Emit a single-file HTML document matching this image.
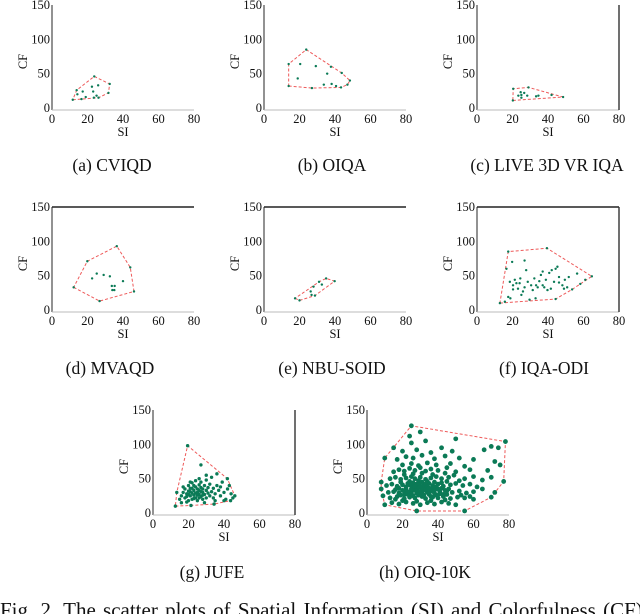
<!DOCTYPE html>
<html><head><meta charset="utf-8"><style>
html,body{margin:0;padding:0;background:#fff;}
svg{display:block;font-family:"Liberation Serif",serif;}
</style></head><body>
<svg id="fig" width="640" height="614" viewBox="0 0 640 614"></svg>
<script>
// ---- data ----
const xTicks = [0, 20, 40, 60, 80];
const yTicks = [0, 50, 100, 150];
const panelNames = ["(a) CVIQD","(b) OIQA","(c) LIVE 3D VR IQA","(d) MVAQD","(e) NBU-SOID","(f) IQA-ODI","(g) JUFE","(h) OIQ-10K"];
const siA = [11.7,14.3,13.9,17.3,19,16.6,22.5,23.2,26,25.1,26.2,23.8,32.5,31.8,23.6];
const cfA = [12,20,26,24,16,13,31,24,33,18,15,46,35,22,15];
const siB = [13.9,13.9,20.4,19,23.8,27,29.2,35.6,33.7,37.7,38.1,40.6,43.4,43.8,47,48.4];
const cfB = [64,32,64,43,85,29,61,50,34,60,35,32,30,51,34,40];
const siC = [20.2,20.4,29,24.6,25,26.6,23.3,28.3,33.3,34.6,42,48.5,25];
const cfC = [11,28,30,23,19,22,18,18,17,18,19,16,15];
const siD = [12.2,19.9,26.8,36.5,44.1,46.2,22.6,25.2,29.1,32.6,33.7,35.3,34,40,35.1];
const cfD = [33,71,13,93,62,27,46,53,51,49,35,35,29,42,29];
const siE = [17.5,20,28.7,26.3,27.9,31,35,39.8,26.8,32.6];
const cfE = [17,14,21,27,34,41,46,42,22,37];
const siF = [12.9,17.6,39.4,64.7,58.2,44.3,15.7,19.8,26.8,16.6,18.5,20.3,21.3,23.1,24,24.4,25.9,25,27.7,28.6,30.5,32.3,33.3,35.1,36,37,37.9,38.8,39.7,40.7,42.1,43.4,44.3,45.3,46.2,48.1,49.5,50.8,51.7,53.6,56.4,61,18.8,17.6,33,29.6,20.3,22.2,26.8,31.4,34.2,37,41.6,46.2,49];
const cfF = [10,85,90,49,38,16,12,70,72,60,41,36,44,31,39,46,27,22,58,41,36,46,36,42,51,56,33,44,29,54,58,41,60,63,48,36,44,33,48,30,53,44,17,19,17,15,30,39,33,29,33,36,31,40,31];
const siG = [12.6,13.4,19.5,41.9,46.1,43.7,34.4,21.4,15,16,17,18,18,19,20,20,20,21,21,22,22,22,23,23,24,24,24,25,25,25,26,26,26,27,27,27,28,28,28,29,29,30,30,30,31,31,32,32,33,34,34,35,36,36,37,38,39,40,41,42,44,45,27,30,33,17,19,16,23,21,26,38,40,43,35,29,19,21,23,24,25,27,22,20,26,28];
const cfG = [10,30,98,50,25,18,13,11,20,25,30,22,35,28,18,32,40,25,36,20,29,44,33,26,38,22,47,30,35,18,27,41,33,24,37,45,30,20,35,27,40,33,22,48,29,37,25,42,31,36,22,28,40,57,33,25,45,30,20,35,28,22,70,55,52,38,16,15,40,45,50,38,18,40,18,15,24,31,21,29,26,31,36,27,22,26];
const siH = [14,18,22,26,30,34,38,42,46,50,20,28,36,44,16,13,17,21,24,27,31,33,37,40,43,47,51,55,19,23,29,35,39,45,53,58,12,15,18,21,24,26,28,30,32,34,36,38,41,44,48,52,56,60,25,31,37,42,46,22,27,33,39,11,14,17,20,23,25,28,30,32,35,37,40,43,47,50,54,58,62,19,24,29,34,38,45,52,13,16,19,22,25,27,30,33,36,39,42,46,49,55,60,65,70,21,26,31,37,44,15,18,21,24,27,30,33,36,40,45,50,58,68,20,25,29,34,39,47,55,75,17,22,26,31,38,44,52,60,72,20,28,36,42,48,66,74,25,33,24,30,25,50,15,78,70,8,9,8,10,60,65,72,77,70,55,28,10,21,23,25,26,28,29,31,32,33,35,36,37,38,22,24,26,27,29,31,33,34,35,20,18,16,40,41,43,45,42];
const cfH = [15,13,16,14,12,15,13,16,14,12,18,17,18,19,20,22,24,21,23,22,24,21,23,22,24,21,23,22,26,27,26,27,26,27,26,24,30,31,29,32,30,33,29,31,33,30,32,29,31,33,30,32,29,31,35,36,35,36,35,35,37,38,38,40,42,39,41,43,40,42,39,41,43,40,42,39,41,43,40,42,38,45,46,47,46,45,46,47,50,52,49,51,53,50,52,49,51,53,50,52,55,50,53,48,52,56,57,58,56,58,60,63,61,65,62,66,61,64,62,66,60,63,62,70,72,69,73,70,72,68,70,78,82,80,84,79,83,80,78,75,90,92,88,95,90,92,95,102,105,112,118,127,108,95,104,97,35,25,45,12,20,35,30,46,23,3,3,80,27,31,28,25,33,37,28,26,34,29,24,37,33,38,41,44,39,43,45,42,38,36,33,36,34,35,28,27,32,44];

const panels = [
 {si:siA, cf:cfA, x0:52,  y0:108, top:false, right:false, cap:112, capY:171, r:1.2},
 {si:siB, cf:cfB, x0:264, y0:108, top:false, right:false, cap:332, capY:171, r:1.2},
 {si:siC, cf:cfC, x0:477, y0:108, top:false, right:true,  cap:547, capY:171, r:1.2},
 {si:siD, cf:cfD, x0:52,  y0:310, top:true,  right:false, cap:110, capY:374, r:1.2},
 {si:siE, cf:cfE, x0:264, y0:310, top:true,  right:false, cap:332, capY:374, r:1.2},
 {si:siF, cf:cfF, x0:477, y0:310, top:true,  right:true,  cap:544, capY:374, r:1.2},
 {si:siG, cf:cfG, x0:153, y0:513, top:false, right:true,  cap:212, capY:578, r:1.7},
 {si:siH, cf:cfH, x0:367, y0:513, top:false, right:false, cap:425, capY:578, r:2.4}
];
const W = 142, H = 103;
const NS = "http://www.w3.org/2000/svg";
const svg = document.getElementById('fig');
function mk(tag, attrs, parent){ const e=document.createElementNS(NS,tag); for(const k in attrs) e.setAttribute(k,attrs[k]); (parent||svg).appendChild(e); return e; }
function hull(pts){
  pts = pts.slice().sort((a,b)=>a[0]-b[0]||a[1]-b[1]);
  const cr=(o,a,b)=>(a[0]-o[0])*(b[1]-o[1])-(a[1]-o[1])*(b[0]-o[0]);
  const lo=[],up=[];
  for(const p of pts){ while(lo.length>=2&&cr(lo[lo.length-2],lo[lo.length-1],p)<=0) lo.pop(); lo.push(p);}
  for(let i=pts.length-1;i>=0;i--){const p=pts[i]; while(up.length>=2&&cr(up[up.length-2],up[up.length-1],p)<=0) up.pop(); up.push(p);}
  up.pop(); lo.pop(); return lo.concat(up);
}
panels.forEach((p,i)=>{
  const g = mk('g',{});
  
  
  const sx = v => p.x0 + v/80*W;
  const sy = v => p.y0 - v/150*H;
  const la = mk('line',{x1:p.x0,y1:sy(150),x2:p.x0,y2:p.y0+2,stroke:'#777','stroke-width':1.6},g);
   
  const ba = mk('line',{x1:p.x0,y1:p.y0+2,x2:sx(80),y2:p.y0+2,stroke:'#bbb','stroke-width':1},g);
   
  if(p.top){ const t=mk('line',{x1:p.x0,y1:sy(150),x2:sx(80),y2:sy(150),stroke:'#222','stroke-width':1.4},g);
      }
  if(p.right){ const t=mk('line',{x1:sx(80),y1:sy(150),x2:sx(80),y2:p.y0+2,stroke:'#333','stroke-width':1.4},g);
      }
  yTicks.forEach(v=>{
    const t=mk('text',{x:p.x0-2,y:sy(v)+4,'text-anchor':'end','font-size':12.5,fill:'#111'},g); t.textContent=v;
     
  });
  xTicks.forEach(v=>{
    const t=mk('text',{x:sx(v),y:p.y0+15,'text-anchor':'middle','font-size':12.5,fill:'#111'},g); t.textContent=v;
     
  });
  const xt=mk('text',{x:sx(40),y:p.y0+28,'text-anchor':'middle','font-size':12.5,fill:'#111'},g); xt.textContent='SI';
   
  const cy=(p.y0+sy(150))/2+5;
  const yt=mk('text',{x:p.x0-25,y:cy,'text-anchor':'middle','font-size':12.5,fill:'#111',transform:`rotate(-90 ${p.x0-25} ${cy})`},g); yt.textContent='CF';
   
  const pts = p.si.map((s,k)=>[s,p.cf[k]]);
  const h = hull(pts);
  const poly = mk('polygon',{points:h.map(q=>sx(q[0])+','+sy(q[1])).join(' '),fill:'none',stroke:'#ee5a5a','stroke-width':1,'stroke-dasharray':'3,2'},g);
   
  pts.forEach(q=>{
    const c=mk('circle',{cx:sx(q[0]),cy:sy(q[1]),r:p.r,fill:'#0b7a56'},g);
     
  });
  const cap=mk('text',{x:p.cap,y:p.capY,'text-anchor':'middle','font-size':17.5,fill:'#111'},g); cap.textContent=panelNames[i];
   
});
const fc = mk('text',{x:0,y:617,'font-size':21,fill:'#111','word-spacing':2,'xml:space':'preserve'});
fc.textContent='Fig. 2.   The scatter plots of Spatial Information (SI) and Colorfulness (CF)';


</script>
</body></html>
